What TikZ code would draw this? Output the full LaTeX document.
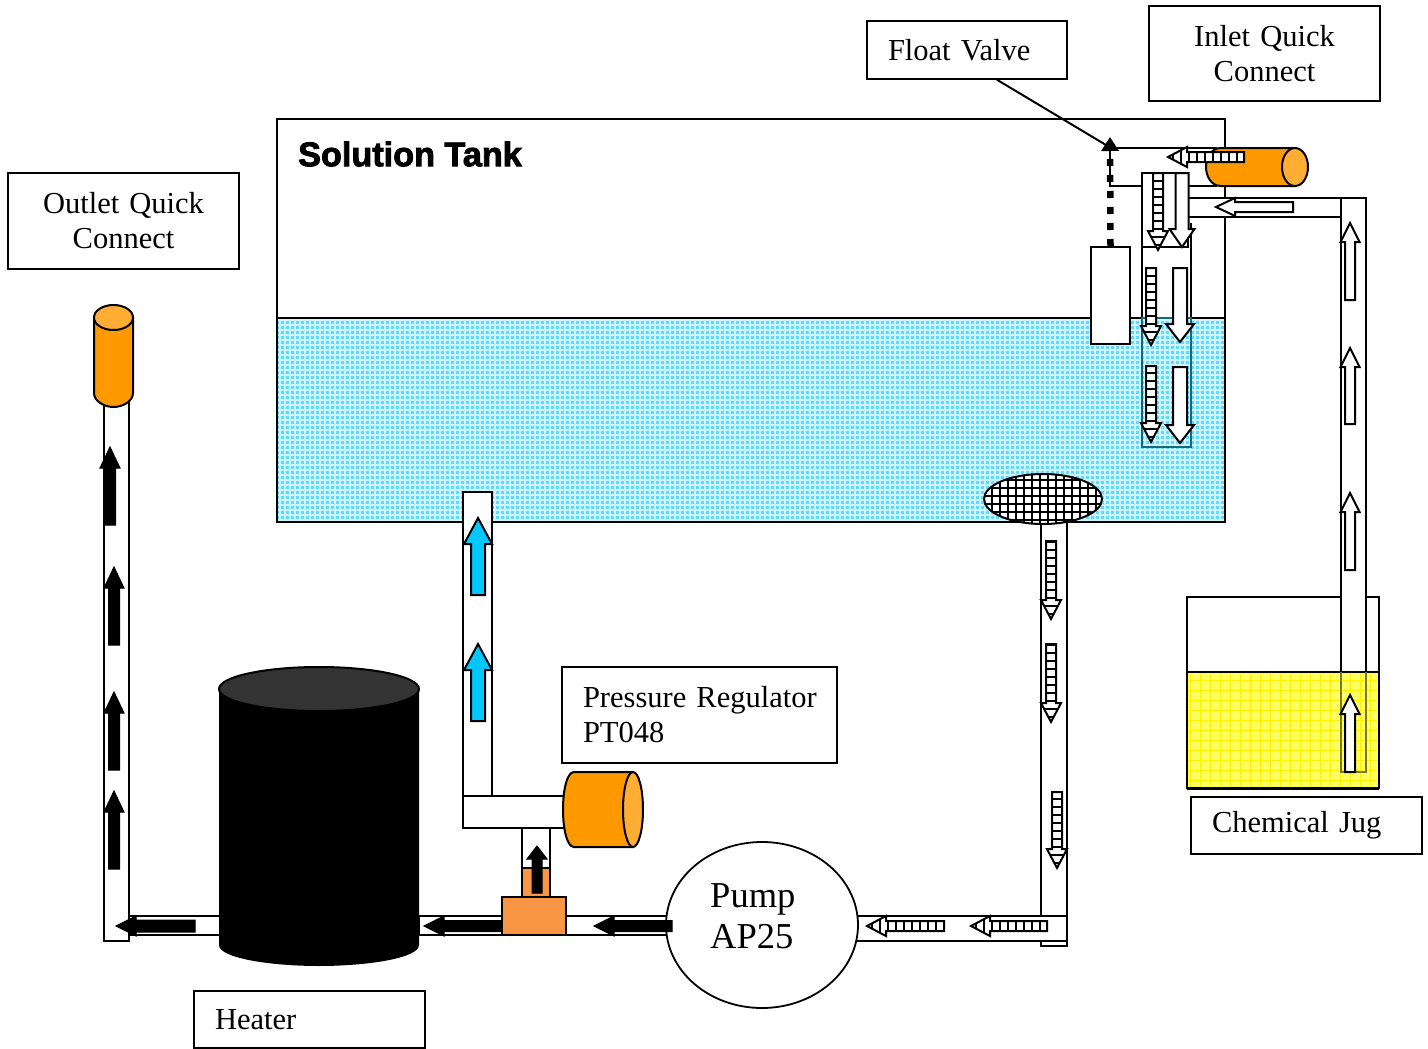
\documentclass[tikz,border=0pt]{standalone}
\usepackage{fontspec}
\setmainfont{Liberation Serif}
\newfontfamily\tankfont[BoldFeatures={FakeBold=2.5}]{Liberation Sans}
\usepackage{xcolor}
\usepackage{tikz}
\usetikzlibrary{arrows.meta, shapes.geometric, positioning, calc}
\definecolor{waterblue}{RGB}{95,218,255}
\definecolor{watermesh}{RGB}{205,244,255}
\definecolor{cylorange}{RGB}{255,153,0}
\definecolor{caporange}{RGB}{255,173,51}
\definecolor{teeorange}{RGB}{248,150,70}
\definecolor{jugyellow}{RGB}{255,255,100}
\definecolor{flowcyan}{RGB}{0,200,255}
\definecolor{tubeteal}{RGB}{20,105,125}
\definecolor{tubeolive}{RGB}{120,120,40}
\newcommand{\blockarrow}[8]{\draw[#1,shift={(#2,#3)},rotate=#4] (0,0) -- (#6,#7) -- (#6,#8) -- (#5,#8) -- (#5,-#8) -- (#6,-#8) -- (#6,-#7) -- cycle;}
\newcommand{\ladderarrow}[4]{%
  \begin{scope}[shift={(#1,#2)},rotate=#3]
    \fill[white] (0,0) -- (19,10) -- (19,5) -- (#4,5) -- (#4,-5) -- (19,-5) -- (19,-10) -- cycle;
    \begin{scope}
      \clip (0,0) -- (19,10) -- (19,5) -- (#4,5) -- (#4,-5) -- (19,-5) -- (19,-10) -- cycle;
      \foreach \s in {5,13,...,#4} \draw[line width=1.6pt] (\s,-10) -- (\s,10);
    \end{scope}
    \draw[line width=2pt] (0,0) -- (19,10) -- (19,5) -- (#4,5) -- (#4,-5) -- (19,-5) -- (19,-10) -- cycle;
  \end{scope}}
\begin{document}
\begin{tikzpicture}[x=1pt,y=-1pt,
    tube/.style={draw=black, fill=white, line width=1.8pt},
    tank/.style={draw=black, line width=2pt},
    plainarrow/.style={draw=black, fill=white, line width=2pt},
    blackarrow/.style={draw=black, fill=black, line width=1pt},
    cyanarrow/.style={draw=black, fill=flowcyan, line width=2pt},
    labelbox/.style={draw=black, line width=1.5pt, inner xsep=21pt, inner ysep=0pt, font=\fontsize{30.5}{35}\selectfont},
    cyl/.style={draw=black, fill=cylorange, line width=2pt},
    cylcap/.style={draw=black, fill=caporange, line width=2pt}]
  \useasboundingbox (0,0) rectangle (1428,1049);

  \draw[tank] (277,119) rectangle (1225,318);
  \fill[waterblue] (277,318) rectangle (1225,522);
  \draw[watermesh, line width=1.4pt, step=5pt] (277,318) grid (1225,522);
  \draw[tank] (277,318) rectangle (1225,522);
  \node[font=\tankfont\bfseries\fontsize{34.2}{36}\selectfont, anchor=west, inner sep=0pt] (tanklabel) at (298,154) {Solution Tank};

  \fill[jugyellow] (1187,672) rectangle (1379,788);
  \draw[yellow, line width=0.7pt, step=10pt] (1187,672) grid (1379,788);
  \draw[tank] (1187,597) rectangle (1379,788);
  \draw[line width=3pt] (1187,788) -- (1379,788);
  \draw[tank] (1187,672) -- (1379,672);

  \draw[tube] (1188,198) rectangle (1345,217);
  \draw[tube] (1341,198) rectangle (1366,672);
  \draw[tubeolive, line width=1.8pt] (1341,672) -- (1341,772) -- (1366,772) -- (1366,672);

  \draw[tube] (1110,148) rectangle (1216,186);
  \path[cyl] (1295,148) -- (1221,148) .. controls (1211,148) and (1206,158) .. (1206,167) .. controls (1206,176) and (1211,186) .. (1221,186) -- (1295,186) -- cycle;
  \draw[cylcap] (1295,167) ellipse [x radius=13, y radius=19];

  \draw[tube] (1142,173) rectangle (1188,247);
  \draw[line width=1.8pt] (1142,247) -- (1142,318) (1191,223) -- (1191,318);
  \draw[tubeteal, line width=1.8pt] (1142,318) rectangle (1191,447);

  \node[draw=black, fill=white, line width=2pt, minimum width=39pt, minimum height=97pt, inner sep=0pt] (floatbox) at (1110.5,295.5) {};
  \coordinate (floattip) at (1110,137);
  \draw[line width=6.5pt, dash pattern=on 7pt off 9pt, -{Triangle[length=14pt,width=17pt]}] (floatbox.north) -- (floattip);

  \ladderarrow{1168}{157}{0}{76}
  \ladderarrow{1158}{250}{90}{77}
  \blockarrow{plainarrow}{1182}{247}{90}{74}{18}{12.5}{6.5}
  \ladderarrow{1151}{345}{90}{77}
  \blockarrow{plainarrow}{1180}{342}{90}{74}{18}{14}{7}
  \ladderarrow{1151}{442}{90}{76}
  \blockarrow{plainarrow}{1180}{443}{90}{76}{18}{14}{7}
  \blockarrow{plainarrow}{1216}{207}{0}{77}{19}{9}{5}

  \blockarrow{plainarrow}{1350}{223}{-90}{77}{19}{9.5}{5}
  \blockarrow{plainarrow}{1350}{348}{-90}{76}{19}{9.5}{5}
  \blockarrow{plainarrow}{1350}{493}{-90}{77}{19}{9.5}{5}
  \blockarrow{plainarrow}{1350}{695}{-90}{77}{19}{9.5}{5}

  \draw[tube] (1041,522) rectangle (1067,946);
  \draw[tube] (850,916) rectangle (1067,941);
  \begin{scope}
    \clip (1043,499) ellipse [x radius=59, y radius=25];
    \fill[white] (980,470) rectangle (1106,528);
    \draw[line width=2pt, step=8pt] (980,470) grid (1106,528);
  \end{scope}
  \draw[line width=2pt] (1043,499) ellipse [x radius=59, y radius=25];
  \ladderarrow{1051}{619}{90}{78}
  \ladderarrow{1051}{722}{90}{78}
  \ladderarrow{1057}{868}{90}{76}
  \ladderarrow{867}{926}{0}{77}
  \ladderarrow{971}{926}{0}{76}

  \draw[tube] (419,916) rectangle (680,935);
  \blockarrow{blackarrow}{424}{926}{0}{78}{20}{10}{5.5}
  \node[ellipse, draw=black, fill=white, line width=1.8pt, minimum width=192pt, minimum height=166pt, inner sep=0pt] (pump) at (762,925) {};
  \blockarrow{blackarrow}{594}{926}{0}{78}{20}{10}{5.5}
  \node[font=\fontsize{36.5}{41}\selectfont, align=left, anchor=west, inner sep=0pt] (pumplabel) at (710,916) {Pump\\AP25};

  \draw[tube] (463,492) rectangle (492,796);
  \draw[tube] (463,796) rectangle (570,828);
  \blockarrow{cyanarrow}{478}{518}{-90}{77}{26}{14}{7}
  \blockarrow{cyanarrow}{478}{644}{-90}{77}{26}{14}{7}
  \draw[tube] (522,828) rectangle (550,897);
  \draw[fill=teeorange, line width=1.8pt] (522,868) rectangle (550,897);
  \blockarrow{blackarrow}{537}{846}{-90}{47}{13}{10}{5}
  \draw[fill=teeorange, line width=1.8pt] (502,897) rectangle (566,935);
  \path[cyl] (633,772) -- (574,772) .. controls (567,772) and (563,790) .. (563,809.5) .. controls (563,829) and (567,847) .. (574,847) -- (633,847) -- cycle;
  \draw[cylcap] (633,809.5) ellipse [x radius=10, y radius=37.5];

  \draw[tube] (104,395) rectangle (129,941);
  \draw[tube] (129,916) rectangle (225,935);
  \blockarrow{blackarrow}{116}{926}{0}{79}{20}{10}{6}
  \blockarrow{blackarrow}{110}{447}{-90}{78}{21}{10}{5.5}
  \blockarrow{blackarrow}{114}{567}{-90}{78}{21}{10}{5.5}
  \blockarrow{blackarrow}{114}{692}{-90}{78}{21}{10}{5.5}
  \blockarrow{blackarrow}{114}{791}{-90}{78}{21}{10}{5.5}
  \path[cyl] (94,317.5) -- (94,393) .. controls (94,401) and (104,407) .. (113.5,407) .. controls (123,407) and (133,401) .. (133,393) -- (133,317.5) -- cycle;
  \draw[cylcap] (113.5,317.5) ellipse [x radius=19.5, y radius=12.5];

  \fill[black] (219,689) -- (219,945) .. controls (219,958) and (270,966) .. (319,966) .. controls (368,966) and (419,958) .. (419,945) -- (419,689) -- cycle;
  \draw[fill=black!80, line width=2pt] (319,689) ellipse [x radius=100, y radius=22];

  \node[labelbox, minimum height=58pt, text width=158pt, align=left] (floatvalve) at (967,50) {\raisebox{1pt}{Float Valve}};
  \node[labelbox, minimum height=95pt, text width=189pt, align=center] (inletlabel) at (1264.5,53.5) {\raisebox{0.5pt}{Inlet Quick}\\Connect};
  \node[labelbox, minimum height=96pt, text width=189pt, align=center] (outletlabel) at (123.5,221) {Outlet Quick\\Connect};
  \node[labelbox, minimum height=96pt, text width=233pt, align=left] (reglabel) at (699.5,715) {\mbox{Pressure Regulator}\\PT048};
  \node[labelbox, minimum height=57pt, text width=189pt, align=left] (heaterlabel) at (309.5,1019.5) {Heater};
  \node[labelbox, minimum height=57pt, text width=189pt, align=left] (juglabel) at (1306.5,825.5) {Chemical Jug};

  \draw[line width=2pt] ([xshift=30pt]floatvalve.south) -- (1106,145);
\end{tikzpicture}
\end{document}
